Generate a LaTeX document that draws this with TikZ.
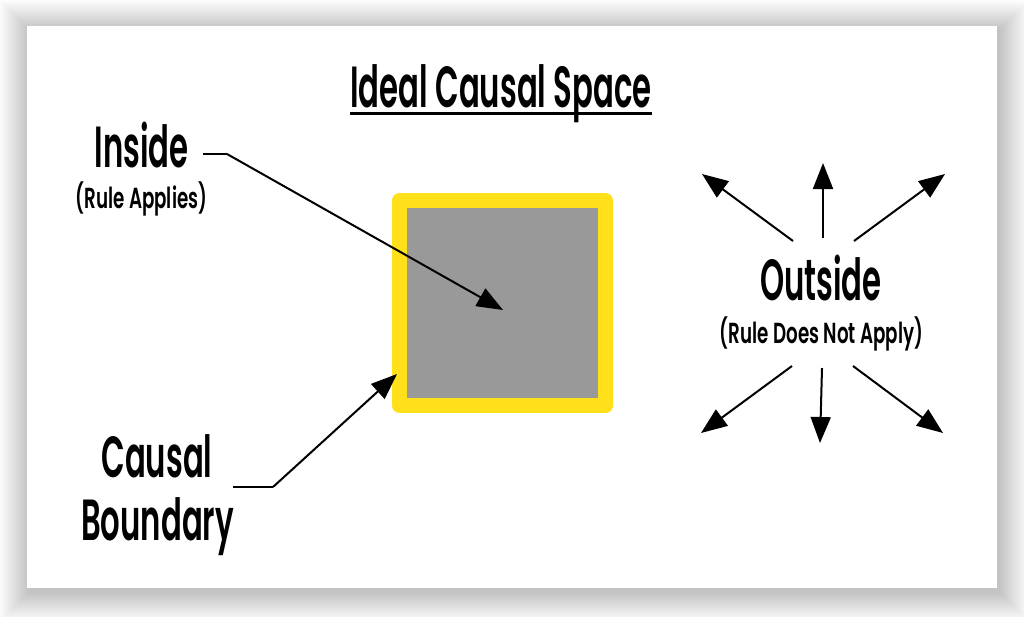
\documentclass[tikz,border=0pt]{standalone}
\usepackage{fontspec}
\IfFontExistsTF{Poppins SemiBold}
  {\newfontfamily\cf{Poppins SemiBold}[FakeStretch=0.53]
   \newfontfamily\cfs{Poppins SemiBold}[FakeStretch=0.63]}
  {\newfontfamily\cf{Poppins}[FakeStretch=0.53]
   \newfontfamily\cfs{Poppins}[FakeStretch=0.63]}
\usetikzlibrary{arrows.meta}
\definecolor{ylw}{HTML}{FFE01A}
\definecolor{gry}{HTML}{999999}
\begin{document}
\begin{tikzpicture}[x=1pt,y=-1pt,
  big/.style={font=\cf\fontsize{58}{60}\selectfont, inner sep=0pt, anchor=base},
  small/.style={font=\cfs\fontsize{29}{30}\selectfont, inner sep=0pt, anchor=base},
  ptr/.style={line width=2pt, -{Triangle[length=26pt,width=20pt]}},
  lead/.style={line width=2pt}]
\useasboundingbox (0,0) rectangle (1024,616);
\fill[white] (0,0) rectangle (1024,616);
\foreach \i in {1,...,30}
  \fill[black, opacity=0.008] (27-\i+2,26-\i+4) rectangle (997+\i+2,588+\i+4);
\fill[white] (27,26) rectangle (997,588);
% box
\node[draw=ylw, fill=gry, line width=15pt, line join=round, minimum width=206pt, minimum height=205pt, inner sep=0pt] (box) at (502.5,303) {};
% title
\node[big] (title) at (501,107) {Ideal Causal Space};
\draw[line width=3pt] ([yshift=-6pt]title.base west) -- ([yshift=-6pt]title.base east);
% inside
\node[big] (inside) at (141.5,167) {Inside};
\node[small] (insidesub) at (141.5,208) {(Rule Applies)};
\coordinate (i1) at (203,154);
\coordinate (i2) at (227,154);
\coordinate (i3) at (503,310);
\draw[lead] (i1) -- (i2);
\draw[ptr] (i2) -- (i3);
% boundary
\node[big] (causal) at (157,477) {Causal};
\node[big] (boundary) at (157.5,540) {Boundary};
\coordinate (b1) at (233,487);
\coordinate (b2) at (273,487);
\coordinate (b3) at (397,374);
\draw[lead] (b1) -- (b2);
\draw[ptr] (b2) -- (b3);
% outside
\node[big] (outside) at (821,300) {Outside};
\node[small] (outsidesub) at (821.5,343) {(Rule Does Not Apply)};
\coordinate (o1s) at (793,241); \coordinate (o1e) at (702,174);
\coordinate (o2s) at (823,238); \coordinate (o2e) at (823,163);
\coordinate (o3s) at (854,241); \coordinate (o3e) at (945,174);
\coordinate (o4s) at (792,366); \coordinate (o4e) at (701,433);
\coordinate (o5s) at (822,368); \coordinate (o5e) at (820,443);
\coordinate (o6s) at (853,366); \coordinate (o6e) at (943,433);
\foreach \k in {1,...,6} \draw[ptr] (o\k s) -- (o\k e);
\end{tikzpicture}
\end{document}
